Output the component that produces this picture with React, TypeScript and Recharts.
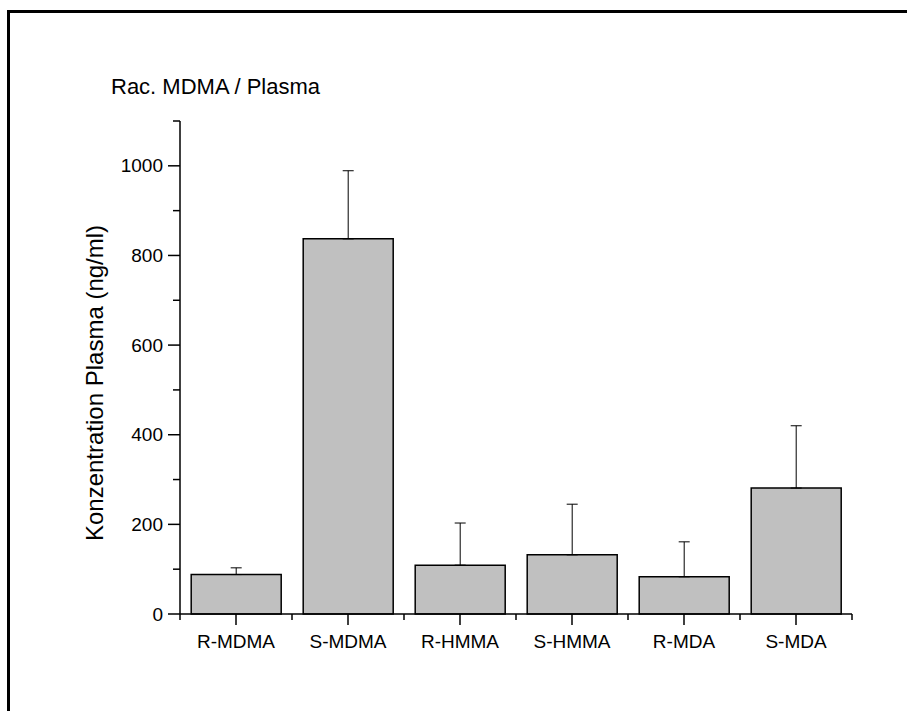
import React from "react"
import { BarChart, Bar, XAxis, YAxis, ErrorBar } from "recharts"

const categories = ["R-MDMA", "S-MDMA", "R-HMMA", "S-HMMA", "R-MDA", "S-MDA"]
const means = [88, 837, 109, 132, 83, 281]
const sds = [15, 152, 94, 113, 78, 139]
const yTicks = [0, 100, 200, 300, 400, 500, 600, 700, 800, 900, 1000, 1100]

const data = categories.map((name, i) => ({ name, mean: means[i], err: [0, sds[i]] }))

const font = "'Liberation Sans', Arial, sans-serif"

function YTick(props: any) {
  const { x, y, payload } = props
  const major = payload.value % 200 === 0
  return (
    <g>
      <line x1={x - (major ? 12 : 7)} x2={x} y1={y} y2={y} stroke="#000" strokeWidth={1.5} />
      {major && (
        <text x={x - 17} y={y} dy="0.35em" textAnchor="end" fontSize={19} fontFamily={font} fill="#000">
          {payload.value}
        </text>
      )}
    </g>
  )
}

function XTick(props: any) {
  const { x, y, payload, index } = props
  const half = payload.offset || 56
  return (
    <g>
      <line x1={x} x2={x} y1={y} y2={y + 11} stroke="#000" strokeWidth={1.5} />
      <line x1={x - half} x2={x - half} y1={y} y2={y + 6} stroke="#000" strokeWidth={1.5} />
      {index === categories.length - 1 && (
        <line x1={x + half} x2={x + half} y1={y} y2={y + 6} stroke="#000" strokeWidth={1.5} />
      )}
      <text x={x} y={y + 34} textAnchor="middle" fontSize={19} fontFamily={font} fill="#000">
        {payload.value}
      </text>
    </g>
  )
}

export default function App() {
  return (
    <div style={{ position: "absolute", left: 0, top: 0, width: 907, height: 711, background: "#fff", fontFamily: font }}>
      <div style={{ position: "absolute", left: 7, top: 10, width: 900, height: 3, background: "#000" }} />
      <div style={{ position: "absolute", left: 7, top: 10, width: 3, height: 701, background: "#000" }} />
      <div style={{ position: "absolute", left: 111, top: 74, fontSize: 22, lineHeight: "26px", color: "#000", whiteSpace: "nowrap" }}>
        Rac. MDMA / Plasma
      </div>
      <div
        style={{
          position: "absolute",
          left: 95,
          top: 383,
          transform: "translate(-50%, -50%) rotate(-90deg)",
          fontSize: 24,
          lineHeight: "28px",
          color: "#000",
          whiteSpace: "nowrap",
        }}
      >
        Konzentration Plasma (ng/ml)
      </div>
      <div style={{ position: "absolute", left: 0, top: 0 }}>
        <BarChart
          width={907}
          height={711}
          data={data}
          margin={{ top: 121, right: 55, left: 100, bottom: 57 }}
          barCategoryGap="10%"
        >
          <XAxis
            dataKey="name"
            height={40}
            interval={0}
            tickSize={0}
            tickMargin={0}
            tickLine={false}
            axisLine={{ stroke: "#000", strokeWidth: 1.5 }}
            tick={(p: any) => <XTick {...p} />}
          />
          <YAxis
            width={80}
            domain={[0, 1100]}
            ticks={yTicks}
            interval={0}
            tickSize={0}
            tickMargin={0}
            tickLine={false}
            axisLine={{ stroke: "#000", strokeWidth: 1.5 }}
            tick={(p: any) => <YTick {...p} />}
          />
          <Bar dataKey="mean" fill="#c0c0c0" stroke="#000" strokeWidth={1.5} isAnimationActive={false}>
            <ErrorBar dataKey="err" direction="y" width={5.5} stroke="#000" strokeWidth={1} />
          </Bar>
        </BarChart>
      </div>
    </div>
  )
}
